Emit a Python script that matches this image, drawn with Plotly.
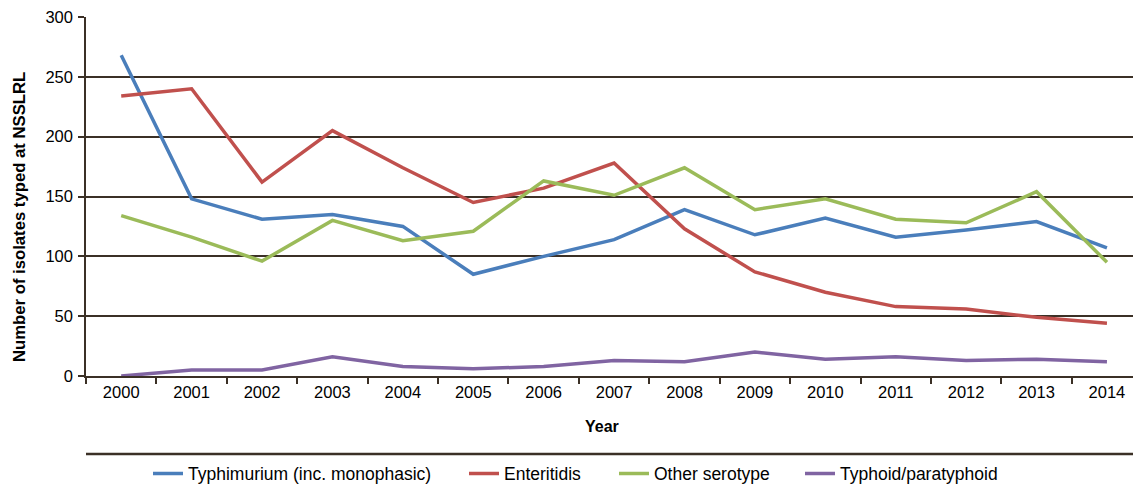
import plotly.graph_objects as go

years = [str(y) for y in range(2000, 2015)]
typhimurium = [268, 148, 131, 135, 125, 85, 100, 114, 139, 118, 132, 116, 122, 129, 107]
enteritidis = [234, 240, 162, 205, 174, 145, 157, 178, 123, 87, 70, 58, 56, 49, 44]
other_serotype = [134, 116, 96, 130, 113, 121, 163, 151, 174, 139, 148, 131, 128, 154, 95]
typhoid = [0, 5, 5, 16, 8, 6, 8, 13, 12, 20, 14, 16, 13, 14, 12]

series_names = ["Typhimurium (inc. monophasic)", "Enteritidis", "Other serotype", "Typhoid/paratyphoid"]
series_values = [typhimurium, enteritidis, other_serotype, typhoid]
series_colors = ["#4a7ebb", "#c0504d", "#9bbb59", "#8064a2"]
legend_ids = ["legend", "legend2", "legend3", "legend4"]
legend_px = [152, 468, 618, 804]

y_ticks = [0, 50, 100, 150, 200, 250, 300]

AX = "#3b3026"
FONT = "Liberation Sans, Arial, sans-serif"
L, W = 86, 1047

fig = go.Figure()
for name, vals, col, lg in zip(series_names, series_values, series_colors, legend_ids):
    fig.add_trace(go.Scatter(x=years, y=vals, name=name, mode="lines", legend=lg,
                             line=dict(color=col, width=3.5)))

legend_layouts = {}
for lg, px in zip(legend_ids, legend_px):
    legend_layouts[lg] = dict(orientation="h", x=(px - 4 - L) / W, xanchor="left",
                              y=-0.272, yanchor="middle", font=dict(size=17.5, family=FONT),
                              itemwidth=30, bgcolor="rgba(0,0,0,0)", borderwidth=0)

fig.update_layout(
    width=1133, height=490,
    margin=dict(l=86, r=0, t=17, b=114, autoexpand=False),
    paper_bgcolor="white", plot_bgcolor="white",
    font=dict(family=FONT, color="black", size=16),
    showlegend=True,
    xaxis=dict(type="category", range=[-0.5, 14.37], tickson="boundaries",
               ticks="outside", ticklen=6, tickcolor=AX, tickwidth=1.5,
               showline=True, linecolor=AX, linewidth=1.5, showgrid=False,
               tickfont=dict(size=16.5), fixedrange=True),
    yaxis=dict(range=[0, 300], tickvals=y_ticks, ticks="outside", ticklen=6,
               tickcolor=AX, tickwidth=1.5, showline=True, linecolor=AX, linewidth=1.5,
               showgrid=True, gridcolor=AX, gridwidth=1.5, zeroline=False,
               tickfont=dict(size=16.5), ticklabelstandoff=2),
    shapes=[dict(type="line", xref="paper", yref="paper", x0=0, x1=1, y0=-0.217, y1=-0.217,
                 line=dict(color=AX, width=2.5))],
    annotations=[
        dict(text="<b>Year</b>", xref="paper", yref="paper", x=0.493, y=-0.142,
             xanchor="center", yanchor="middle", showarrow=False, font=dict(size=16)),
        dict(text="<b>Number of isolates typed at NSSLRL</b>", xref="paper", yref="paper",
             x=-0.063, y=0.443, xanchor="center", yanchor="middle", textangle=-90,
             showarrow=False, font=dict(size=16.7)),
    ],
    **legend_layouts,
)

fig.write_html("out.html")
